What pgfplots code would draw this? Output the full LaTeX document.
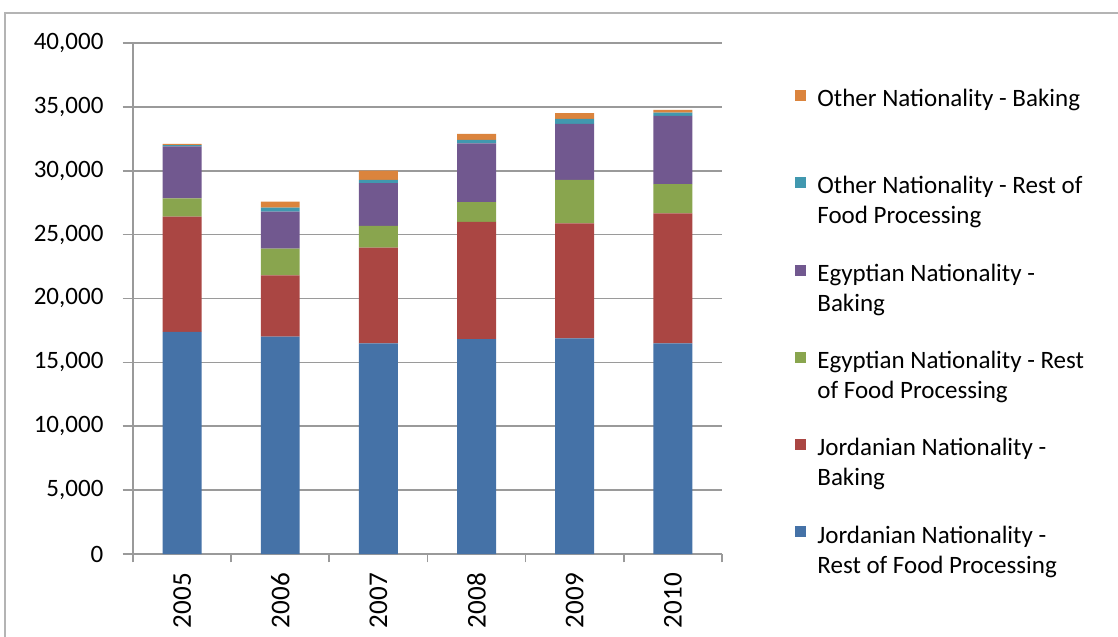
\documentclass[border=0pt]{standalone}
\usepackage{fontspec}
\setmainfont{Carlito}
\usepackage{pgfplots}
\pgfplotsset{compat=1.18}
\usepackage{pgfplotstable}

\definecolor{jorrest}{HTML}{4572A7}
\definecolor{jorbake}{HTML}{AA4643}
\definecolor{egyrest}{HTML}{89A54E}
\definecolor{egybake}{HTML}{71588F}
\definecolor{othrest}{HTML}{4198AF}
\definecolor{othbake}{HTML}{DB843D}
\definecolor{gridc}{HTML}{9A9A9A}
\definecolor{framec}{HTML}{B4B4B4}

% workers by year: Jordanian / Egyptian / Other, rest of food processing and baking
\pgfplotstableread{
x jrest jbake erest ebake orest obake
0 17380 9020 1440 4060 100 100
1 17010 4800 2090 2900 310 470
2 16490 7490 1700 3340 260 720
3 16810 9180 1560 4600 260 470
4 16880 9000 3400 4380 390 450
5 16490 10180 2290 5330 260 210
}\data

\begin{document}
\fontsize{12}{14.4}\selectfont
\begin{tikzpicture}
\useasboundingbox (-63.84pt,-39.84pt) rectangle ++(536.64pt,305.76pt);
\draw[framec, line width=1pt] (-61.44pt,-50pt) -- (-61.44pt,259.68pt) -- (500pt,259.68pt);
\begin{axis}[
    at={(0pt,0pt)}, anchor=south west,
    scale only axis,
    width=282.7pt, height=245.3pt,
    ybar stacked,
    bar width=18.7pt,
    xmin=-0.5, xmax=5.5,
    ymin=0, ymax=40000,
    ytick={0,5000,...,40000},
    scaled y ticks=false,
    xtick={0,...,5},
    xticklabels={2005,2006,2007,2008,2009,2010},
    minor xtick={-0.5,0.5,...,5.5},
    major x tick style={draw=none},
    minor tick length=4pt,
    major tick length=5pt,
    tick align=outside,
    xtick pos=bottom, ytick pos=left,
    ymajorgrids,
    grid style={gridc, line width=0.8pt},
    axis line style={gridc, line width=0.8pt},
    tick style={gridc, line width=0.8pt},
    axis x line*=bottom,
    axis y line*=left,
    font=\fontsize{12}{14.4}\selectfont,
    xticklabel style={rotate=90, anchor=east, font=\fontsize{13}{15.6}\selectfont},
    yticklabel style={xshift=-5pt},
    /pgf/number format/fixed,
    /pgf/number format/1000 sep={,},
    /pgf/number format/assume math mode=true,
    legend cell align=left,
    reverse legend,
    legend image code/.code={\fill[#1] (0pt,-1.45pt) rectangle (5.3pt,3.85pt); \path (0pt,-11.15pt) (0pt,11.15pt);},
    legend style={at={(1.1239,0.9386)}, anchor=north west, draw=none, inner sep=0pt,
        nodes={inner sep=0pt}, row sep=19.6pt, column sep=5.3pt,
        font=\fontsize{12}{14.4}\selectfont},
]
\addplot[fill=jorrest, draw=none] table[x=x, y=jrest] {\data};
\addlegendentry{\parbox[t]{140pt}{\strut Jordanian Nationality -\\\strut Rest of Food Processing}}
\addplot[fill=jorbake, draw=none] table[x=x, y=jbake] {\data};
\addlegendentry{\parbox[t]{140pt}{\strut Jordanian Nationality -\\\strut Baking}}
\addplot[fill=egyrest, draw=none] table[x=x, y=erest] {\data};
\addlegendentry{\parbox[t]{140pt}{\strut Egyptian Nationality - Rest\\\strut of Food Processing}}
\addplot[fill=egybake, draw=none] table[x=x, y=ebake] {\data};
\addlegendentry{\parbox[t]{140pt}{\strut Egyptian Nationality -\\\strut Baking}}
\addplot[fill=othrest, draw=none] table[x=x, y=orest] {\data};
\addlegendentry{\parbox[t]{140pt}{\strut Other Nationality - Rest of\\\strut Food Processing}}
\addplot[fill=othbake, draw=none] table[x=x, y=obake] {\data};
\addlegendentry{\parbox[t]{140pt}{\strut Other Nationality - Baking\\\strut}}
\end{axis}
\end{tikzpicture}
\end{document}
